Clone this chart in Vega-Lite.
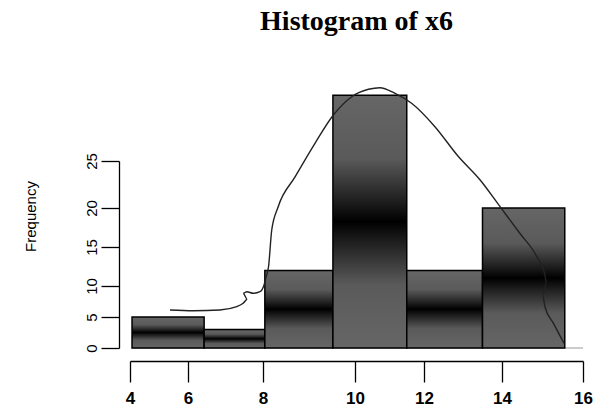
{
  "$schema": "https://vega.github.io/schema/vega-lite/v6.json",
  "width": 453,
  "height": 187,
  "autosize": "none",
  "padding": {"left": 130, "top": 161, "right": 16, "bottom": 61},
  "background": "white",
  "title": {
    "text": "Histogram of x6",
    "font": "Liberation Serif",
    "fontSize": 28,
    "fontWeight": "bold",
    "color": "black",
    "anchor": "middle",
    "frame": "group",
    "baseline": "alphabetic",
    "offset": 27
  },
  "config": {
    "view": {"stroke": null},
    "axis": {
      "grid": false,
      "domainColor": "black",
      "domainWidth": 1.3,
      "tickColor": "black",
      "tickWidth": 1.3,
      "labelColor": "black",
      "labelOverlap": false,
      "labelFlush": false
    }
  },
  "layer": [
    {
      "data": {"values": [{"x0": 4.07, "x1": 16}]},
      "mark": {"type": "rule", "color": "#999999", "strokeWidth": 1},
      "encoding": {
        "x": {
          "field": "x0",
          "type": "quantitative",
          "scale": {"domain": [4, 6, 8, 10, 12, 14, 16], "range": [0, 58, 133, 225, 294, 372, 453], "nice": false, "zero": false},
          "axis": {
            "values": [4, 6, 8, 10, 12, 14, 16],
            "tickCount": 20,
            "format": "d",
            "offset": 13,
            "tickSize": 21,
            "labelPadding": 8,
            "labelFont": "Liberation Sans",
            "labelFontSize": 17,
            "labelFontWeight": "bold",
            "title": null
          }
        },
        "x2": {"field": "x1"},
        "y": {
          "datum": 0,
          "type": "quantitative",
          "scale": {"domain": [0, 5, 10, 15, 20, 25], "range": [187, 156, 125, 86, 47, 0], "nice": false, "zero": false},
          "axis": {
            "values": [0, 5, 10, 15, 20, 25],
            "tickCount": 20,
            "format": "d",
            "offset": 11,
            "tickSize": 18,
            "labelAngle": -90,
            "labelPadding": 2,
            "labelFont": "Liberation Sans",
            "labelFontSize": 15,
            "title": "Frequency",
            "titleFont": "Liberation Sans",
            "titleFontSize": 15,
            "titleFontWeight": "normal",
            "titleColor": "black",
            "titlePadding": 46,
            "titleY": 55
          }
        }
      }
    },
    {
      "data": {
        "values": [
          {"start": 4.07, "end": 6.43, "count": 5},
          {"start": 6.43, "end": 8.04, "count": 3},
          {"start": 8.04, "end": 9.52, "count": 12},
          {"start": 9.52, "end": 11.5, "count": 32},
          {"start": 11.5, "end": 13.5, "count": 12},
          {"start": 13.5, "end": 15.55, "count": 20}
        ]
      },
      "mark": {
        "type": "rect",
        "stroke": "black",
        "strokeWidth": 1.5,
        "fill": {
          "gradient": "linear",
          "x1": 0, "y1": 0, "x2": 0, "y2": 1,
          "stops": [
            {"offset": 0, "color": "#666666"},
            {"offset": 0.25, "color": "#5a5a5a"},
            {"offset": 0.42, "color": "#1e1e1e"},
            {"offset": 0.5, "color": "#000000"},
            {"offset": 0.58, "color": "#1e1e1e"},
            {"offset": 0.75, "color": "#5a5a5a"},
            {"offset": 1, "color": "#666666"}
          ]
        }
      },
      "encoding": {
        "x": {"field": "start", "type": "quantitative"},
        "x2": {"field": "end"},
        "y": {"field": "count", "type": "quantitative"},
        "y2": {"datum": 0}
      }
    },
    {
      "data": {
        "values": [
          {"i": 1, "x": 5.38, "y": 6.13},
          {"i": 2, "x": 6.14, "y": 6.02},
          {"i": 3, "x": 6.85, "y": 6.13},
          {"i": 4, "x": 7.3, "y": 6.66},
          {"i": 5, "x": 7.47, "y": 7.21},
          {"i": 6, "x": 7.58, "y": 7.85},
          {"i": 7, "x": 7.47, "y": 8.82},
          {"i": 8, "x": 7.57, "y": 9.08},
          {"i": 9, "x": 7.74, "y": 8.82},
          {"i": 10, "x": 7.92, "y": 9.08},
          {"i": 11, "x": 8.01, "y": 9.89},
          {"i": 12, "x": 8.07, "y": 11.2},
          {"i": 13, "x": 8.12, "y": 12.47},
          {"i": 14, "x": 8.19, "y": 17.18},
          {"i": 15, "x": 8.33, "y": 20.14},
          {"i": 16, "x": 8.7, "y": 23.33},
          {"i": 17, "x": 9.13, "y": 26.88},
          {"i": 18, "x": 9.53, "y": 29.89},
          {"i": 19, "x": 9.93, "y": 31.84},
          {"i": 20, "x": 10.39, "y": 32.63},
          {"i": 21, "x": 10.72, "y": 32.8},
          {"i": 22, "x": 11.16, "y": 32.2},
          {"i": 23, "x": 11.64, "y": 31.14},
          {"i": 24, "x": 12.28, "y": 28.65},
          {"i": 25, "x": 12.87, "y": 25.53},
          {"i": 26, "x": 13.44, "y": 22.98},
          {"i": 27, "x": 13.95, "y": 20.14},
          {"i": 28, "x": 14.44, "y": 16.76},
          {"i": 29, "x": 14.86, "y": 13.76},
          {"i": 30, "x": 15.06, "y": 11.41},
          {"i": 31, "x": 15.1, "y": 10.35},
          {"i": 32, "x": 15.0, "y": 8.55},
          {"i": 33, "x": 15.06, "y": 6.66},
          {"i": 34, "x": 15.27, "y": 3.98},
          {"i": 35, "x": 15.53, "y": 0.76}
        ]
      },
      "mark": {"type": "line", "color": "#222222", "strokeWidth": 1.4, "interpolate": "monotone"},
      "encoding": {
        "x": {"field": "x", "type": "quantitative"},
        "y": {"field": "y", "type": "quantitative"},
        "order": {"field": "i", "type": "quantitative"}
      }
    }
  ]
}
